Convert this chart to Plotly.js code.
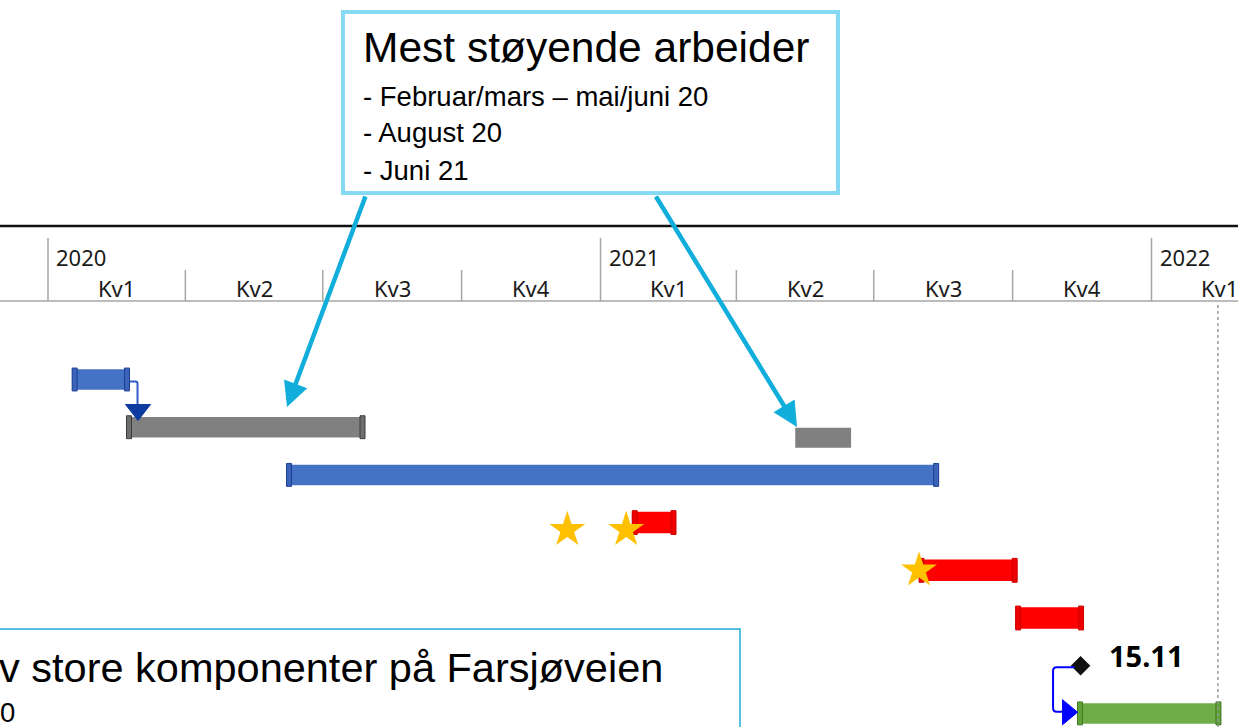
<!DOCTYPE html>
<html>
<head>
<meta charset="utf-8">
<script src="https://cdn.plot.ly/plotly-3.0.1.min.js"></script>
<style>
  html, body { margin: 0; padding: 0; background: #ffffff; overflow: hidden; }
  #chart { width: 1238px; height: 727px; }
</style>
</head>
<body>
<div id="chart"></div>
<script>
// ---------------- DATA ----------------
// Gantt tasks (row index from top, start, end, kind)
const taskRows  = [0, 1, 1.22, 2, 3, 4, 5, 7];
const taskStart = ['2020-01-17', '2020-02-22', '2021-05-10', '2020-06-07', '2021-01-22', '2021-07-31', '2021-10-03', '2021-11-13'];
const taskEnd   = ['2020-02-24', '2020-07-29', '2021-06-16', '2021-08-13', '2021-02-20', '2021-10-04', '2021-11-17', '2022-02-16'];
const taskKind  = ['blue', 'grey', 'greyPlain', 'blue', 'red', 'red', 'red', 'green'];

// Milestone
const milestoneDate  = ['2021-11-15'];
const milestoneRow   = [6];
const milestoneLabel = ['15.11'];

// Stars (most noisy work)
const starDate = ['2020-12-10', '2021-01-18', '2021-07-31'];
const starRow  = [3.15, 3.15, 4];

// Status / end line
const statusLineDate = '2022-02-14';

// Timescale
const yearStarts    = ['2020-01-01', '2021-01-01', '2022-01-01'];
const yearLabels    = ['2020', '2021', '2022'];
const quarterStarts = ['2020-01-01', '2020-04-01', '2020-07-01', '2020-10-01', '2021-01-01', '2021-04-01', '2021-07-01', '2021-10-01', '2022-01-01'];
const quarterEnds   = ['2020-04-01', '2020-07-01', '2020-10-01', '2021-01-01', '2021-04-01', '2021-07-01', '2021-10-01', '2022-01-01', '2022-04-01'];
const quarterLabels = ['Kv1', 'Kv2', 'Kv3', 'Kv4', 'Kv1', 'Kv2', 'Kv3', 'Kv4', 'Kv1'];

// Callout texts
const callout1Title = 'Mest støyende arbeider';
const callout1Lines = ['- Februar/mars – mai/juni 20', '- August 20', '- Juni 21'];
const callout2Title = 'v store komponenter på Farsjøveien';
const callout2Lines = ['0'];

// ---------------- STYLE ----------------
const W = 1238, H = 727;
const DAY = 86400000;
const PX_PER_DAY = 1.5096;
const kindStyle = {
  blue:      { fill: '#4472C4', cap: '#3A63BA', capLine: '#1F3E94', width: 0.43 },
  grey:      { fill: '#808080', cap: '#6E6E6E', capLine: '#3C3C3C', width: 0.43 },
  greyPlain: { fill: '#808080', cap: null,      capLine: null,      width: 0.42 },
  red:       { fill: '#FF0000', cap: '#EE0000', capLine: '#CC0000', width: 0.45 },
  green:     { fill: '#70AD47', cap: '#62A03A', capLine: '#3F7A22', width: 0.43 }
};
const py = p => 1 - p / H;          // pixel row -> paper y
const px = p => p / W;              // pixel col -> paper x
const ms = d => new Date(d + 'T00:00:00Z').getTime();
const iso = t => new Date(t).toISOString().slice(0, 19).replace('T', ' ');

// ---------------- TRACES ----------------
const bars = {
  type: 'bar', orientation: 'h',
  y: taskRows,
  base: taskStart,
  x: taskStart.map((s, i) => ms(taskEnd[i]) - ms(s)),
  width: taskKind.map(k => kindStyle[k].width),
  marker: { color: taskKind.map(k => kindStyle[k].fill), line: { width: 0 } },
  hoverinfo: 'skip', showlegend: false
};

// end caps (drawn as short bars)
const capMs = 5 / PX_PER_DAY * DAY;
const capY = [], capBase = [], capLen = [], capW = [], capFill = [], capLineC = [];
taskKind.forEach((k, i) => {
  const st = kindStyle[k];
  if (!st.cap) return;
  capY.push(taskRows[i], taskRows[i]);
  capBase.push(taskStart[i], iso(ms(taskEnd[i]) - capMs));
  capLen.push(capMs, capMs);
  capW.push(st.width + 0.05, st.width + 0.05);
  capFill.push(st.cap, st.cap);
  capLineC.push(st.capLine, st.capLine);
});
const caps = {
  type: 'bar', orientation: 'h',
  y: capY, base: capBase, x: capLen, width: capW,
  marker: { color: capFill, line: { color: capLineC, width: 1 } },
  hoverinfo: 'skip', showlegend: false
};

const stars = {
  type: 'scatter', mode: 'markers',
  x: starDate, y: starRow,
  marker: { symbol: 'star', size: 27, color: '#FFC000', line: { width: 0 } },
  hoverinfo: 'skip', showlegend: false
};

const milestone = {
  type: 'scatter', mode: 'markers',
  x: milestoneDate, y: milestoneRow,
  marker: { symbol: 'diamond', size: 15, color: '#111111', line: { width: 0 } },
  hoverinfo: 'skip', showlegend: false
};

// ---------------- SHAPES ----------------
const shapes = [];
// timescale lines
shapes.push({ type: 'line', xref: 'paper', yref: 'paper', x0: 0, x1: 1, y0: py(226), y1: py(226), line: { color: '#111111', width: 2.5 } });
shapes.push({ type: 'line', xref: 'paper', yref: 'paper', x0: 0, x1: 1, y0: py(301), y1: py(301), line: { color: '#A6A6A6', width: 1.5 } });
quarterStarts.forEach(q => {
  const isYear = yearStarts.includes(q);
  shapes.push({ type: 'line', xref: 'x', yref: 'paper', x0: q, x1: q, y0: py(isYear ? 238 : 270), y1: py(301), line: { color: '#A6A6A6', width: 1.5 } });
});
// status line
shapes.push({ type: 'line', xref: 'x', yref: 'paper', x0: statusLineDate, x1: statusLineDate, y0: py(305), y1: 0, line: { color: '#9A9A9A', width: 1.5, dash: 'dot' } });

// dependency connectors
shapes.push({ type: 'path', xref: 'x', yref: 'y', xsizemode: 'pixel', ysizemode: 'pixel',
  xanchor: taskEnd[0], yanchor: taskRows[0], path: 'M0,-2 H6 Q8,-2 8,-4 V-27',
  line: { color: '#2E5BC8', width: 2 } });
shapes.push({ type: 'path', xref: 'x', yref: 'y', xsizemode: 'pixel', ysizemode: 'pixel',
  xanchor: taskEnd[0], yanchor: taskRows[0], path: 'M-4,-25 L21,-25 L8.5,-41 Z',
  fillcolor: '#0D3BA0', line: { color: '#0D3BA0', width: 1 } });
shapes.push({ type: 'path', xref: 'x', yref: 'y', xsizemode: 'pixel', ysizemode: 'pixel',
  xanchor: milestoneDate[0], yanchor: milestoneRow[0], path: 'M-6,-1.5 H-24 Q-27.5,-1.5 -27.5,-5 V-42 Q-27.5,-46 -24,-46 H-16',
  line: { color: '#0000FF', width: 2 } });
shapes.push({ type: 'path', xref: 'x', yref: 'y', xsizemode: 'pixel', ysizemode: 'pixel',
  xanchor: milestoneDate[0], yanchor: milestoneRow[0], path: 'M-18,-34 L-18,-59 L-3,-46.5 Z',
  fillcolor: '#0000FF', line: { color: '#0000FF', width: 1 } });

// callout boxes
shapes.push({ type: 'rect', xref: 'paper', yref: 'paper', x0: px(343), x1: px(838), y0: py(193), y1: py(12),
  fillcolor: '#FFFFFF', line: { color: '#86D9F2', width: 4 } });
shapes.push({ type: 'rect', xref: 'paper', yref: 'paper', x0: px(-20), x1: px(740), y0: py(760), y1: py(629),
  fillcolor: 'rgba(255,255,255,0)', line: { color: '#1EA9D8', width: 1.5 } });

// ---------------- ANNOTATIONS ----------------
const annotations = [];
const hdrFont = { family: 'Segoe UI, Noto Sans, sans-serif', size: 22, color: '#1A1A1A' };
yearStarts.forEach((y, i) => {
  annotations.push({ xref: 'x', yref: 'paper', x: y, y: py(257), text: yearLabels[i], showarrow: false,
    xanchor: 'left', yanchor: 'middle', xshift: 6, font: hdrFont });
});
quarterStarts.forEach((q, i) => {
  const mid = iso((ms(q) + ms(quarterEnds[i])) / 2);
  annotations.push({ xref: 'x', yref: 'paper', x: mid, y: py(288), text: quarterLabels[i], showarrow: false,
    xanchor: 'center', yanchor: 'middle', font: hdrFont });
});
// milestone label
annotations.push({ xref: 'x', yref: 'y', x: milestoneDate[0], y: milestoneRow[0], text: '<b>' + milestoneLabel[0] + '</b>',
  showarrow: false, xanchor: 'left', yanchor: 'middle', xshift: 26, yshift: 10,
  font: { family: 'Noto Sans, sans-serif', size: 29, color: '#000000' } });

// callout 1 text
const boxFont = 'Arial, Liberation Sans, sans-serif';
annotations.push({ xref: 'paper', yref: 'paper', x: px(361), y: py(48), text: callout1Title, showarrow: false,
  xanchor: 'left', yanchor: 'middle', font: { family: boxFont, size: 42.5, color: '#000' } });
callout1Lines.forEach((t, i) => {
  annotations.push({ xref: 'paper', yref: 'paper', x: px(361), y: py(96 + i * 37), text: t, showarrow: false,
    xanchor: 'left', yanchor: 'middle', font: { family: boxFont, size: 27.5, color: '#000' } });
});
// callout 2 text
annotations.push({ xref: 'paper', yref: 'paper', x: px(-3), y: py(667), text: callout2Title, showarrow: false,
  xanchor: 'left', yanchor: 'middle', font: { family: boxFont, size: 41.5, color: '#000' } });
annotations.push({ xref: 'paper', yref: 'paper', x: px(-2), y: py(712), text: callout2Lines[0], showarrow: false,
  xanchor: 'left', yanchor: 'middle', font: { family: boxFont, size: 27.5, color: '#000' } });

// callout arrows
const arrowStyle = { showarrow: true, arrowhead: 2, arrowsize: 1.1, arrowwidth: 4.5, arrowcolor: '#12AEDB', text: '', standoff: 0, startstandoff: 0 };
annotations.push(Object.assign({ xref: 'paper', yref: 'paper', x: px(287), y: py(407), ax: 366 - 287, ay: 195 - 407 }, arrowStyle));
annotations.push(Object.assign({ xref: 'paper', yref: 'paper', x: px(797), y: py(427), ax: 655 - 797, ay: 195 - 427 }, arrowStyle));

// ---------------- LAYOUT ----------------
const layout = {
  width: W, height: H,
  margin: { l: 0, r: 0, t: 0, b: 0, pad: 0 },
  paper_bgcolor: '#FFFFFF', plot_bgcolor: '#FFFFFF',
  barmode: 'overlay', showlegend: false,
  xaxis: { type: 'date', range: ['2019-11-30 04:52', '2022-02-27 07:12'], visible: false, fixedrange: true },
  yaxis: { type: 'linear', range: [7.285, -7.956], visible: false, fixedrange: true },
  shapes: shapes, annotations: annotations
};

Plotly.newPlot('chart', [bars, caps, stars, milestone], layout, { displayModeBar: false, staticPlot: true });
</script>
</body>
</html>
